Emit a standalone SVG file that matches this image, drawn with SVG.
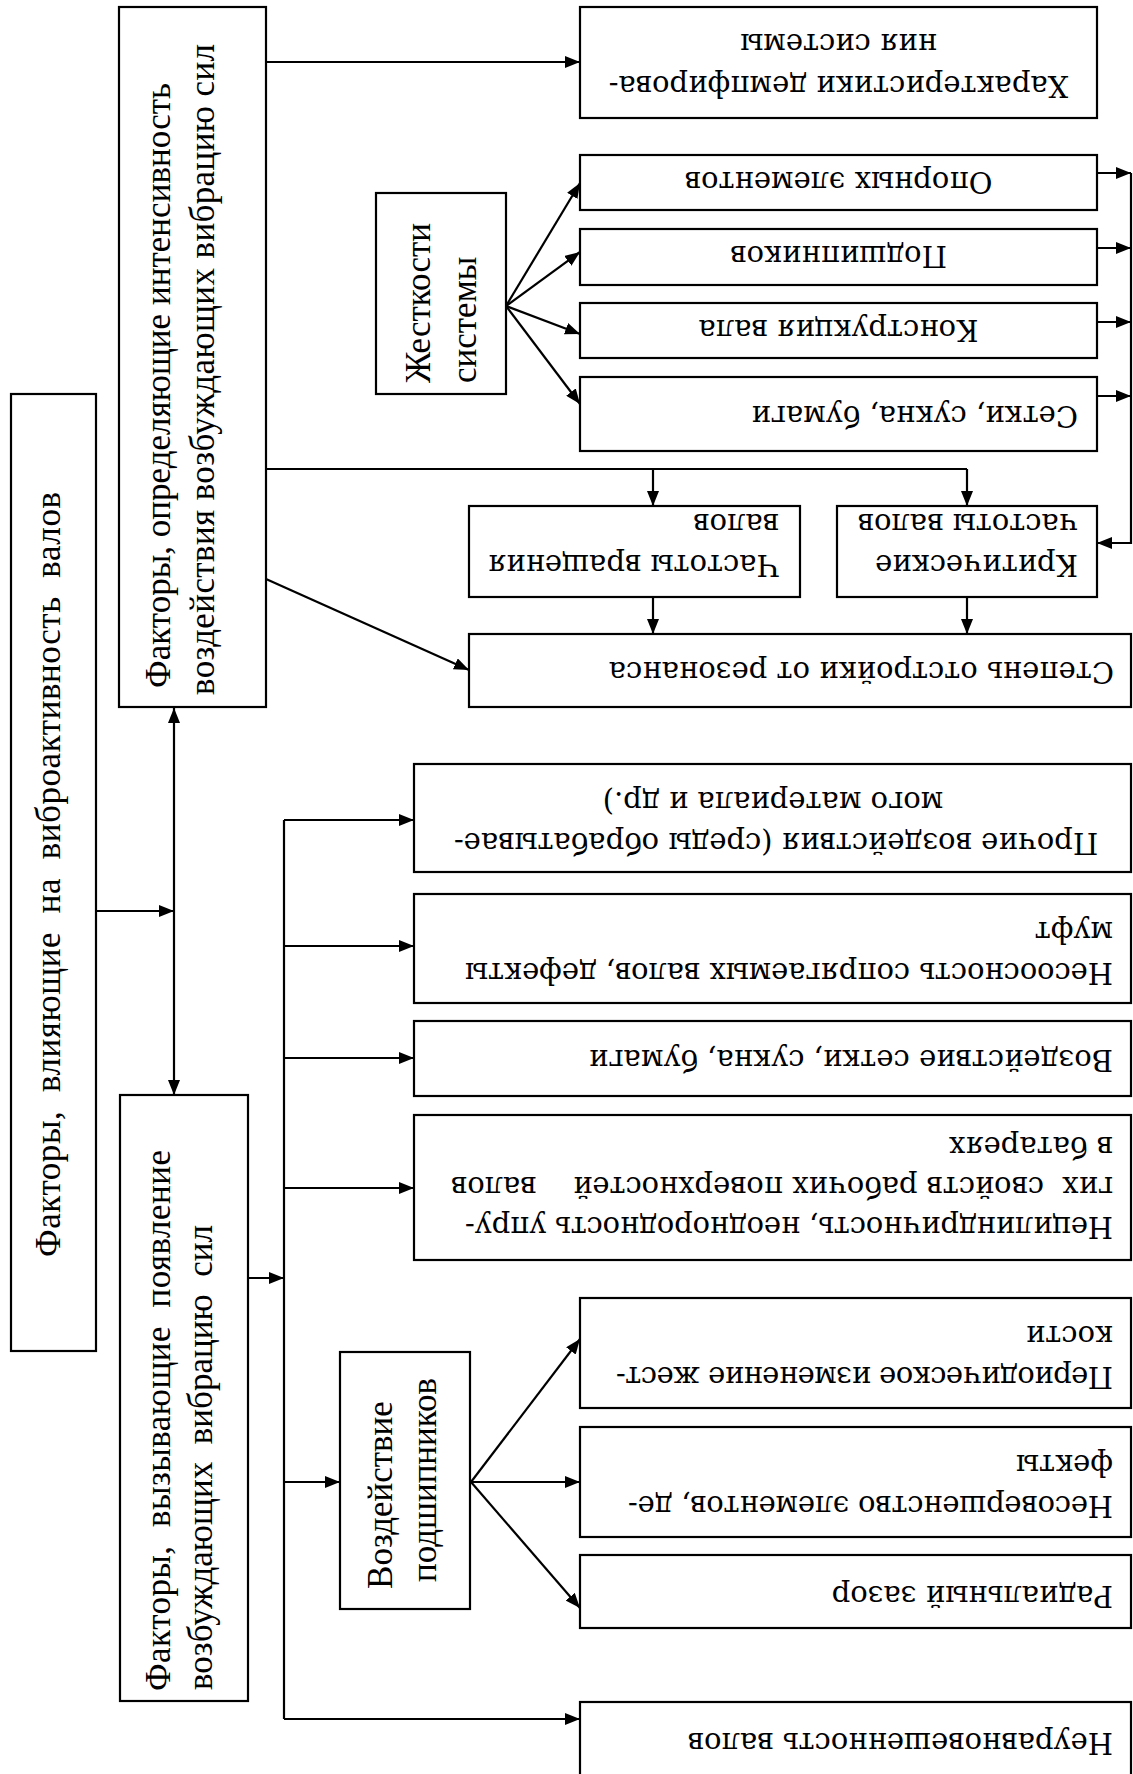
<svg xmlns="http://www.w3.org/2000/svg" width="1133" height="1774" viewBox="0 0 1133 1774">
<style>
  .box{fill:#fff;stroke:#000;stroke-width:2.2}
  .r{font-family:"Liberation Serif","Times New Roman",serif;font-size:35px;fill:#000}
  .u{font-family:"DejaVu Serif","Liberation Serif",serif;font-size:29px;fill:#000}
  .m{text-anchor:middle}
  .c{fill:none;stroke:#000;stroke-width:2.2}
</style>
<defs>
  <marker id="ah" viewBox="0 0 15 12" refX="15" refY="6" markerWidth="15" markerHeight="12" markerUnits="userSpaceOnUse" orient="auto-start-reverse">
    <path d="M0,0 L15,6 L0,12 z" fill="#000"/>
  </marker>
</defs>
<rect width="1133" height="1774" fill="#fff"/>

<g id="connectors">
  <path class="c" d="M96,911 H174" marker-end="url(#ah)"/>
  <path class="c" d="M174,708 V1095" marker-start="url(#ah)" marker-end="url(#ah)"/>
  <path class="c" d="M266,62 H580" marker-end="url(#ah)"/>
  <path class="c" d="M506,306 L580,183" marker-end="url(#ah)"/>
  <path class="c" d="M506,306 L580,252" marker-end="url(#ah)"/>
  <path class="c" d="M506,306 L580,334" marker-end="url(#ah)"/>
  <path class="c" d="M506,306 L580,404" marker-end="url(#ah)"/>
  <path class="c" d="M1097,173 H1131" marker-end="url(#ah)"/>
  <path class="c" d="M1097,248 H1131" marker-end="url(#ah)"/>
  <path class="c" d="M1097,322 H1131" marker-end="url(#ah)"/>
  <path class="c" d="M1097,396 H1131" marker-end="url(#ah)"/>
  <path class="c" d="M1131,173 V543 H1097" marker-end="url(#ah)"/>
  <path class="c" d="M266,469 H967"/>
  <path class="c" d="M653,469 V506" marker-end="url(#ah)"/>
  <path class="c" d="M967,469 V506" marker-end="url(#ah)"/>
  <path class="c" d="M653,597 V634" marker-end="url(#ah)"/>
  <path class="c" d="M967,597 V634" marker-end="url(#ah)"/>
  <path class="c" d="M266,579 L469,670" marker-end="url(#ah)"/>
  <path class="c" d="M248,1278 H284" marker-end="url(#ah)"/>
  <path class="c" d="M284,820 V1719"/>
  <path class="c" d="M284,820 H414" marker-end="url(#ah)"/>
  <path class="c" d="M284,946 H414" marker-end="url(#ah)"/>
  <path class="c" d="M284,1058 H414" marker-end="url(#ah)"/>
  <path class="c" d="M284,1188 H414" marker-end="url(#ah)"/>
  <path class="c" d="M284,1482 H340" marker-end="url(#ah)"/>
  <path class="c" d="M284,1719 H580" marker-end="url(#ah)"/>
  <path class="c" d="M471,1482 L580,1339" marker-end="url(#ah)"/>
  <path class="c" d="M471,1482 L580,1482" marker-end="url(#ah)"/>
  <path class="c" d="M471,1482 L580,1608" marker-end="url(#ah)"/>
</g>

<g id="n-main">
  <rect class="box" x="11" y="394" width="85" height="957"/>
  <text class="r m" x="60" y="874.5" transform="rotate(-90 60 874.5)" xml:space="preserve" textLength="765" lengthAdjust="spacing">Факторы,  влияющие  на  виброактивность  валов</text>
</g>

<g id="n-intensity">
  <rect class="box" x="119" y="7" width="147" height="700"/>
  <text class="r" x="170" y="688" transform="rotate(-90 170 688)" textLength="605" lengthAdjust="spacing">Факторы, определяющие интенсивность</text>
  <text class="r" x="214" y="695" transform="rotate(-90 214 695)" textLength="651" lengthAdjust="spacing">воздействия возбуждающих вибрацию сил</text>
</g>

<g id="n-cause">
  <rect class="box" x="120" y="1095" width="128" height="606"/>
  <text class="r" x="170" y="1691" transform="rotate(-90 170 1691)" xml:space="preserve" textLength="541" lengthAdjust="spacing">Факторы,  вызывающие  появление</text>
  <text class="r" x="212" y="1690" transform="rotate(-90 212 1690)" xml:space="preserve" textLength="465" lengthAdjust="spacing">возбуждающих  вибрацию  сил</text>
</g>

<g id="n-damping">
  <rect class="box" x="580" y="7" width="517" height="111"/>
  <text class="u m" x="838.5" y="76" transform="rotate(180 838.5 76)">Характеристики демпфирова-</text>
  <text class="u m" x="838.5" y="34" transform="rotate(180 838.5 34)">ния системы</text>
</g>

<g id="n-stiffness">
  <rect class="box" x="376" y="193" width="130" height="201"/>
  <text class="r" x="430" y="383" transform="rotate(-90 430 383)">Жесткости</text>
  <text class="r" x="476" y="383" transform="rotate(-90 476 383)">системы</text>
</g>

<g id="n-supports">
  <rect class="box" x="580" y="155" width="517" height="55"/>
  <text class="u m" x="838.5" y="172" transform="rotate(180 838.5 172)">Опорных элементов</text>
</g>

<g id="n-bearings">
  <rect class="box" x="580" y="229" width="517" height="56"/>
  <text class="u m" x="838.5" y="246" transform="rotate(180 838.5 246)">Подшипников</text>
</g>

<g id="n-shaft">
  <rect class="box" x="580" y="303" width="517" height="55"/>
  <text class="u m" x="838.5" y="320" transform="rotate(180 838.5 320)">Конструкция вала</text>
</g>

<g id="n-felts">
  <rect class="box" x="580" y="377" width="517" height="74"/>
  <text class="u" x="1078" y="406" transform="rotate(180 1078 406)">Сетки, сукна, бумаги</text>
</g>

<g id="n-rotation">
  <rect class="box" x="469" y="506" width="331" height="91"/>
  <text class="u" x="779" y="555" transform="rotate(180 779 555)">Частоты вращения</text>
  <text class="u" x="779" y="514" transform="rotate(180 779 514)">валов</text>
</g>

<g id="n-critical">
  <rect class="box" x="837" y="506" width="260" height="91"/>
  <text class="u" x="1078" y="555" transform="rotate(180 1078 555)">Критические</text>
  <text class="u" x="1078" y="514" transform="rotate(180 1078 514)">частоты валов</text>
</g>

<g id="n-resonance">
  <rect class="box" x="469" y="634" width="662" height="73"/>
  <text class="u" x="1114" y="662" transform="rotate(180 1114 662)">Степень отстройки от резонанса</text>
</g>

<g id="n-other">
  <rect class="box" x="414" y="764" width="717" height="108"/>
  <text class="u m" x="776" y="833" transform="rotate(180 776 833)">Прочие воздействия (среды обрабатывае-</text>
  <text class="u m" x="773" y="792" transform="rotate(180 773 792)">мого материала и др.)</text>
</g>

<g id="n-misalign">
  <rect class="box" x="414" y="894" width="717" height="109"/>
  <text class="u" x="1113" y="963" transform="rotate(180 1113 963)" textLength="648" lengthAdjust="spacing">Несоосность сопрягаемых валов, дефекты</text>
  <text class="u" x="1113" y="922" transform="rotate(180 1113 922)">муфт</text>
</g>

<g id="n-felt-action">
  <rect class="box" x="414" y="1021" width="717" height="75"/>
  <text class="u" x="1113" y="1050" transform="rotate(180 1113 1050)">Воздействие сетки, сукна, бумаги</text>
</g>

<g id="n-noncyl">
  <rect class="box" x="414" y="1115" width="717" height="145"/>
  <text class="u" x="1113" y="1217" transform="rotate(180 1113 1217)" textLength="648" lengthAdjust="spacing">Нецилиндричность, неоднородность упру-</text>
  <text class="u" x="1113" y="1177" transform="rotate(180 1113 1177)" xml:space="preserve" textLength="662" lengthAdjust="spacing">гих  свойств рабочих поверхностей    валов</text>
  <text class="u" x="1113" y="1137" transform="rotate(180 1113 1137)">в батареях</text>
</g>

<g id="n-bearing-action">
  <rect class="box" x="340" y="1352" width="130" height="257"/>
  <text class="r m" x="392" y="1495" transform="rotate(-90 392 1495)">Воздействие</text>
  <text class="r m" x="436" y="1480" transform="rotate(-90 436 1480)">подшипников</text>
</g>

<g id="n-periodic">
  <rect class="box" x="580" y="1298" width="551" height="110"/>
  <text class="u" x="1113" y="1367" transform="rotate(180 1113 1367)" textLength="497" lengthAdjust="spacing">Периодическое изменение жест-</text>
  <text class="u" x="1113" y="1326" transform="rotate(180 1113 1326)">кости</text>
</g>

<g id="n-imperfect">
  <rect class="box" x="580" y="1427" width="551" height="110"/>
  <text class="u" x="1113" y="1496" transform="rotate(180 1113 1496)" textLength="485" lengthAdjust="spacing">Несовершенство элементов, де-</text>
  <text class="u" x="1113" y="1455" transform="rotate(180 1113 1455)">фекты</text>
</g>

<g id="n-gap">
  <rect class="box" x="580" y="1555" width="551" height="73"/>
  <text class="u" x="1113" y="1586" transform="rotate(180 1113 1586)">Радиальный зазор</text>
</g>

<g id="n-unbalance">
  <rect class="box" x="580" y="1702" width="551" height="100"/>
  <text class="u" x="1113" y="1733" transform="rotate(180 1113 1733)">Неуравновешенность валов</text>
</g>
</svg>
